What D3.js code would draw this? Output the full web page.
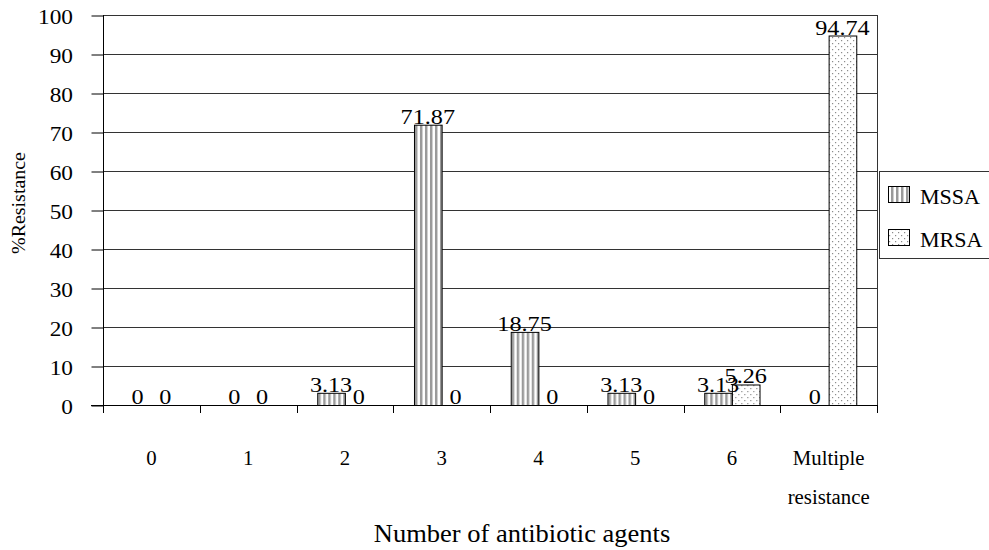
<!DOCTYPE html>
<html>
<head>
<meta charset="utf-8">
<script src="https://cdn.jsdelivr.net/npm/d3@7/dist/d3.min.js"></script>
<style>
  html, body { margin: 0; padding: 0; background: #fff; }
  svg { display: block; }
  text { font-family: "Liberation Serif", "Times New Roman", serif; fill: #000; }
</style>
</head>
<body>
<svg id="chart" width="989" height="550"></svg>
<script>
const categories = ["0", "1", "2", "3", "4", "5", "6", "Multiple resistance"];
const seriesNames = ["MSSA", "MRSA"];
const mssa = [0, 0, 3.13, 71.87, 18.75, 3.13, 3.13, 0];
const mrsa = [0, 0, 0, 0, 0, 0, 5.26, 94.74];
const yTicks = [0, 10, 20, 30, 40, 50, 60, 70, 80, 90, 100];
const xTitle = "Number of antibiotic agents";
const yTitle = "%Resistance";

(function () {
const svg = d3.select("#chart");
const pLeft = 103, pRight = 877, pTop = 15, pBottom = 405;

const defs = svg.append("defs");
const p1 = defs.append("pattern").attr("id", "stripes").attr("patternUnits", "userSpaceOnUse")
  .attr("width", 5).attr("height", 10);
p1.append("rect").attr("width", 5).attr("height", 10).attr("fill", "#fff");
p1.append("rect").attr("x", 1).attr("width", 2).attr("height", 10).attr("fill", "#9a9a9a");
p1.append("rect").attr("x", 3).attr("width", 1).attr("height", 10).attr("fill", "#cfcfcf");
const p2 = defs.append("pattern").attr("id", "dots").attr("patternUnits", "userSpaceOnUse")
  .attr("width", 6).attr("height", 6);
p2.append("rect").attr("width", 6).attr("height", 6).attr("fill", "#fff");
p2.append("rect").attr("x", 1).attr("y", 1).attr("width", 1.2).attr("height", 1.2).attr("fill", "#8a8a8a");
p2.append("rect").attr("x", 4).attr("y", 4).attr("width", 1.2).attr("height", 1.2).attr("fill", "#8a8a8a");
const fills = ["url(#stripes)", "url(#dots)"];

const x0 = d3.scaleBand().domain(categories).range([pLeft, pRight]).paddingInner(0).paddingOuter(0);
const bw = x0.bandwidth() / 3.5;
const x1 = d3.scaleBand().domain(seriesNames).range([0, 2 * bw]);
const y = d3.scaleLinear().domain([0, 100]).range([pBottom, pTop]);

function txt(g, x, yy, s, size, anchor, sx) {
  return g.append("text")
    .attr("transform", `translate(${x},${yy}) scale(${sx || 1},1)`)
    .attr("text-anchor", anchor || "middle")
    .attr("font-size", size)
    .text(s);
}

svg.append("g").selectAll("line").data(yTicks).join("line")
  .attr("x1", pLeft).attr("x2", pRight)
  .attr("y1", d => Math.round(y(d)) + 0.5).attr("y2", d => Math.round(y(d)) + 0.5)
  .attr("stroke", "#333").attr("stroke-width", 1);

svg.append("line").attr("x1", pRight + 0.5).attr("x2", pRight + 0.5)
  .attr("y1", pTop).attr("y2", pBottom).attr("stroke", "#333");

const yAxis = d3.axisLeft(y).tickValues(yTicks).tickSize(12).tickFormat("");
const ya = svg.append("g").attr("transform", `translate(${pLeft + 0.5},0.5)`).call(yAxis);
ya.select(".domain").remove();
ya.selectAll(".tick line").attr("stroke", "#000");
svg.append("line").attr("x1", pLeft + 0.5).attr("x2", pLeft + 0.5).attr("y1", pTop).attr("y2", pBottom + 8).attr("stroke", "#000");
const yl = svg.append("g");
yTicks.forEach(t => txt(yl, 73, y(t) + 9, String(t), 22, "end", 1.06));

svg.append("line").attr("x1", pLeft - 12).attr("x2", pRight).attr("y1", pBottom + 0.5).attr("y2", pBottom + 0.5).attr("stroke", "#000");
const bounds = categories.map(c => x0(c)).concat([pRight]);
svg.append("g").selectAll("line").data(bounds).join("line")
  .attr("x1", d => Math.round(d) + 0.5).attr("x2", d => Math.round(d) + 0.5)
  .attr("y1", pBottom).attr("y2", pBottom + 8).attr("stroke", "#000");

const data = categories.map((c, i) => ({ c, vals: [mssa[i], mrsa[i]] }));
const groups = svg.append("g").selectAll("g").data(data).join("g")
  .attr("transform", d => `translate(${x0(d.c) + (x0.bandwidth() - 2 * bw) / 2},0)`);
groups.selectAll("rect").data(d => d.vals.map((v, j) => ({ v, s: seriesNames[j], j })).filter(e => e.v > 0))
  .join("rect")
  .attr("x", d => x1(d.s) + 0.5)
  .attr("y", d => y(d.v) + 0.5)
  .attr("width", x1.bandwidth())
  .attr("height", d => pBottom - y(d.v))
  .attr("fill", d => fills[d.j])
  .attr("stroke", "#000").attr("stroke-width", 1);

const vl = svg.append("g");
data.forEach(d => {
  const gx = x0(d.c) + (x0.bandwidth() - 2 * bw) / 2;
  d.vals.forEach((v, j) => {
    txt(vl, gx + x1(seriesNames[j]) + x1.bandwidth() / 2, y(v) - 1, String(v), 22, "middle", 1.1);
  });
});

const cl = svg.append("g");
categories.forEach(c => {
  const cx = x0(c) + x0.bandwidth() / 2;
  c.split(" ").forEach((p, k) => txt(cl, cx, 465 + k * 39, p, 20, "middle", 1.04));
});

txt(svg, 522, 542, xTitle, 25, "middle", 1.06);
svg.append("text")
  .attr("transform", `translate(25,203) rotate(-90) scale(1.05,1)`)
  .attr("text-anchor", "middle").attr("font-size", 19).text(yTitle);

const lg = svg.append("g");
lg.append("rect").attr("x", 879.5).attr("y", 171.5).attr("width", 120).attr("height", 87)
  .attr("fill", "#fff").attr("stroke", "#333");
seriesNames.forEach((s, i) => {
  const yy = 186 + i * 43;
  lg.append("rect").attr("x", 888.5).attr("y", yy + 0.5).attr("width", 21).attr("height", 16)
    .attr("fill", fills[i]).attr("stroke", "#000");
  txt(lg, 920, yy + 18, s, 21, "start", 1.05);
});
})();
</script>
</body>
</html>
